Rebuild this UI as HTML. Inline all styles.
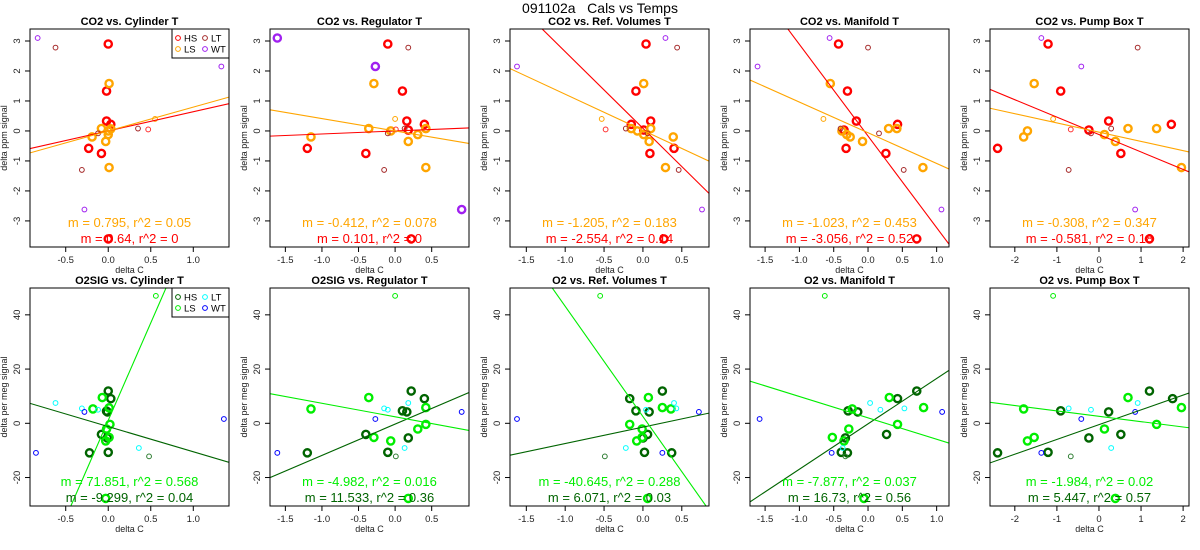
<!DOCTYPE html>
<html><head><meta charset="utf-8"><style>
html,body{margin:0;padding:0;background:#fff;width:1200px;height:550px;overflow:hidden;}
svg{display:block;font-family:"Liberation Sans",sans-serif;}
</style></head><body>
<svg id="chart" width="1200" height="550" viewBox="0 0 1200 550">
<text x="600" y="13" text-anchor="middle" font-size="14" style="white-space:pre" xml:space="preserve">091102a   Cals vs Temps</text>
</svg>
<script>
// ---------- data ----------
const panelTitles = ["CO2 vs. Cylinder T","CO2 vs. Regulator T","CO2 vs. Ref. Volumes T","CO2 vs. Manifold T","CO2 vs. Pump Box T",
 "O2SIG vs. Cylinder T","O2SIG vs. Regulator T","O2 vs. Ref. Volumes T","O2 vs. Manifold T","O2 vs. Pump Box T"];
const xRanges = [[-0.92,1.42],[-1.71,1.01],[-1.71,0.85],[-1.72,1.18],[-2.59,2.14]];
const xTicks = [[-0.5,0,0.5,1.0],[-1.5,-1,-0.5,0,0.5],[-1.5,-1,-0.5,0,0.5],[-1.5,-1,-0.5,0,0.5,1.0],[-2,-1,0,1,2]];
const yRangeTop = [-3.87,3.4];
const yRangeBot = [-30.5,49.9];
const yTicksTop = [-3,-2,-1,0,1,2,3];
const yTicksBot = [-20,0,20,40];
const fitHS = [[0.64,0.0],[0.101,0.0],[-2.554,0.09],[-3.056,-0.17],[-0.581,-0.12],
               [-9.299,-1.2],[11.533,-0.3],[6.071,-1.4],[16.73,-0.2],[5.447,-0.5]];
const fitLS = [[0.795,0.0],[-0.412,0.0],[-1.205,0.02],[-1.023,-0.06],[-0.308,-0.04],
               [71.851,1.1],[-4.982,2.4],[-40.645,2.5],[-7.877,2.0],[-1.984,2.6]];
const statLS = ["m = 0.795, r^2 = 0.05","m = -0.412, r^2 = 0.078","m = -1.205, r^2 = 0.183","m = -1.023, r^2 = 0.453","m = -0.308, r^2 = 0.347",
 "m = 71.851, r^2 = 0.568","m = -4.982, r^2 = 0.016","m = -40.645, r^2 = 0.288","m = -7.877, r^2 = 0.037","m = -1.984, r^2 = 0.02"];
const statHS = ["m = 0.64, r^2 = 0","m = 0.101, r^2 = 0","m = -2.554, r^2 = 0.14","m = -3.056, r^2 = 0.52","m = -0.581, r^2 = 0.18",
 "m = -9.299, r^2 = 0.04","m = 11.533, r^2 = 0.36","m = 6.071, r^2 = 0.03","m = 16.73, r^2 = 0.56","m = 5.447, r^2 = 0.57"];
const pts0 = [[0,2.9,"HS"],[-0.02,1.33,"HS"],[-0.02,0.33,"HS"],[0.03,0.22,"HS"],[-0.23,-0.58,"HS"],[-0.08,-0.75,"HS"],[0,-3.6,"HS"],
 [0.01,1.58,"LS"],[-0.08,0.08,"LS"],[0,0.0,"LS"],[0.03,0.07,"LS"],[-0.19,-0.2,"LS"],[-0.03,-0.35,"LS"],[0,-0.12,"LS"],[0.01,-1.22,"LS"],
 [0.55,0.4,"ls"],[0.47,0.05,"hs"],[-0.62,2.78,"LT"],[-0.12,-0.08,"LT"],[0.35,0.08,"LT"],[-0.31,-1.3,"LT"],
 [-0.83,3.1,"WT"],[1.33,2.15,"WT"],[-0.28,-2.62,"WT"]];
const pts1 = [[-0.1,2.9,"HS"],[0.1,1.33,"HS"],[0.16,0.33,"HS"],[0.40,0.22,"HS"],[0.18,0.03,"HS"],[-1.2,-0.58,"HS"],[-0.4,-0.75,"HS"],[0.22,-3.6,"HS"],
 [-0.29,1.58,"LS"],[-0.36,0.08,"LS"],[-0.06,0.0,"LS"],[-1.15,-0.2,"LS"],[0.31,-0.12,"LS"],[0.18,-0.35,"LS"],[0.42,0.08,"LS"],[0.42,-1.22,"LS"],
 [0.0,0.4,"ls"],[0.01,0.05,"hs"],[0.18,2.78,"LT"],[-0.1,-0.08,"LT"],[0.13,0.08,"LT"],[-0.15,-1.3,"LT"],
 [-1.61,3.1,"WB"],[-0.27,2.15,"WB"],[0.91,-2.62,"WB"]];
const pts2 = [[0.04,2.9,"HS"],[-0.09,1.33,"HS"],[0.10,0.33,"HS"],[-0.15,0.22,"HS"],[0.01,0.03,"HS"],[0.40,-0.58,"HS"],[0.09,-0.75,"HS"],[0.27,-3.6,"HS"],
 [0.01,1.58,"LS"],[-0.15,0.08,"LS"],[-0.07,0.0,"LS"],[0.01,-0.12,"LS"],[0.08,-0.35,"LS"],[0.1,0.08,"LS"],[0.39,-0.2,"LS"],[0.29,-1.22,"LS"],
 [-0.53,0.4,"ls"],[-0.48,0.05,"hs"],[0.44,2.78,"LT"],[-0.22,0.08,"LT"],[0.06,-0.08,"LT"],[0.46,-1.3,"LT"],
 [-1.62,2.15,"WT"],[0.29,3.1,"WT"],[0.76,-2.62,"WT"]];
const pts3 = [[-0.43,2.9,"HS"],[-0.30,1.33,"HS"],[-0.17,0.33,"HS"],[0.43,0.22,"HS"],[-0.35,0.03,"HS"],[-0.32,-0.58,"HS"],[0.26,-0.75,"HS"],[0.71,-3.6,"HS"],
 [-0.55,1.58,"LS"],[-0.38,0.0,"LS"],[-0.31,-0.12,"LS"],[-0.26,-0.2,"LS"],[-0.08,-0.35,"LS"],[0.30,0.08,"LS"],[0.42,0.08,"LS"],[0.80,-1.22,"LS"],
 [-0.65,0.4,"ls"],[0.0,2.78,"LT"],[-0.40,0.08,"LT"],[0.16,-0.08,"LT"],[0.52,-1.3,"LT"],
 [-1.61,2.15,"WT"],[-0.56,3.1,"WT"],[1.07,-2.62,"WT"]];
const pts4 = [[-1.21,2.9,"HS"],[-0.91,1.33,"HS"],[0.23,0.33,"HS"],[1.72,0.22,"HS"],[-0.24,0.03,"HS"],[-2.41,-0.58,"HS"],[0.52,-0.75,"HS"],[1.2,-3.6,"HS"],
 [-1.54,1.58,"LS"],[-1.70,0.0,"LS"],[-1.79,-0.2,"LS"],[0.13,-0.12,"LS"],[0.39,-0.35,"LS"],[0.69,0.08,"LS"],[1.37,0.08,"LS"],[1.96,-1.22,"LS"],
 [-1.09,0.4,"ls"],[-0.67,0.05,"hs"],[0.92,2.78,"LT"],[0.29,0.08,"LT"],[-0.19,-0.08,"LT"],[-0.72,-1.3,"LT"],
 [-1.37,3.1,"WT"],[-0.42,2.15,"WT"],[0.86,-2.62,"WT"]];
const pts5 = [[0,11.9,"HS"],[0.03,9.1,"HS"],[-0.02,4.5,"HS"],[-0.01,4.2,"HS"],[-0.08,-4.1,"HS"],[-0.22,-10.9,"HS"],[0,-10.7,"HS"],[-0.01,-5.4,"HS"],
 [-0.07,9.5,"LS"],[0.01,5.7,"LS"],[-0.18,5.3,"LS"],[0.02,-0.4,"LS"],[-0.02,-2.1,"LS"],[0.01,-5.2,"LS"],[-0.03,-6.5,"LS"],[-0.03,-27.7,"LS"],
 [0.56,47,"ls"],[0.48,-12.2,"hs"],[-0.62,7.5,"LT"],[-0.31,5.5,"LT"],[-0.12,5.0,"LT"],[0.36,-9.1,"LT"],
 [-0.85,-10.9,"WT"],[-0.28,4.2,"WT"],[1.36,1.6,"WT"]];
const pts6 = [[0.22,11.9,"HS"],[0.40,9.1,"HS"],[0.1,4.6,"HS"],[0.16,4.2,"HS"],[-0.40,-4.1,"HS"],[-1.2,-10.9,"HS"],[-0.1,-10.7,"HS"],[0.18,-5.4,"HS"],
 [-0.36,9.5,"LS"],[0.42,5.8,"LS"],[-1.15,5.3,"LS"],[0.42,-0.4,"LS"],[0.31,-2.1,"LS"],[-0.29,-5.2,"LS"],[-0.06,-6.5,"LS"],[0.18,-27.7,"LS"],
 [0.0,47,"ls"],[0.01,-12.2,"hs"],[0.18,7.5,"LT"],[-0.15,5.5,"LT"],[-0.1,5.0,"LT"],[0.13,-9.1,"LT"],
 [-1.61,-10.9,"WT"],[-0.27,1.6,"WT"],[0.91,4.2,"WT"]];
const pts7 = [[0.25,11.9,"HS"],[-0.17,9.1,"HS"],[-0.09,4.6,"HS"],[0.08,4.2,"HS"],[0.06,-4.1,"HS"],[0.37,-10.9,"HS"],[0.02,-10.7,"HS"],[0.0,-5.4,"HS"],
 [0.07,9.5,"LS"],[0.25,5.8,"LS"],[0.36,5.3,"LS"],[-0.17,-0.4,"LS"],[-0.01,-2.1,"LS"],[-0.01,-5.2,"LS"],[-0.08,-6.5,"LS"],[0.06,-27.7,"LS"],
 [-0.55,47,"ls"],[-0.49,-12.2,"hs"],[0.40,7.5,"LT"],[0.43,5.5,"LT"],[0.04,5.0,"LT"],[-0.22,-9.1,"LT"],
 [-1.62,1.6,"WT"],[0.25,-10.9,"WT"],[0.72,4.2,"WT"]];
const pts8 = [[0.71,11.9,"HS"],[0.43,9.1,"HS"],[-0.29,4.6,"HS"],[-0.15,4.2,"HS"],[0.27,-4.1,"HS"],[-0.30,-10.9,"HS"],[-0.39,-10.7,"HS"],[-0.33,-5.4,"HS"],
 [0.31,9.5,"LS"],[0.81,5.8,"LS"],[-0.23,5.3,"LS"],[0.43,-0.4,"LS"],[-0.28,-2.1,"LS"],[-0.52,-5.2,"LS"],[-0.35,-6.5,"LS"],[-0.06,-27.7,"LS"],
 [-0.63,47,"ls"],[-0.33,-12.2,"hs"],[0.03,7.5,"LT"],[0.53,5.5,"LT"],[0.18,5.0,"LT"],[-0.37,-9.1,"LT"],
 [-1.58,1.6,"WT"],[-0.53,-10.9,"WT"],[1.08,4.2,"WT"]];
const pts9 = [[1.2,11.9,"HS"],[1.75,9.1,"HS"],[-0.91,4.6,"HS"],[0.23,4.2,"HS"],[0.52,-4.1,"HS"],[-2.41,-10.9,"HS"],[-1.21,-10.7,"HS"],[-0.24,-5.4,"HS"],
 [0.69,9.5,"LS"],[1.96,5.8,"LS"],[-1.79,5.3,"LS"],[1.37,-0.4,"LS"],[0.13,-2.1,"LS"],[-1.54,-5.2,"LS"],[-1.70,-6.5,"LS"],[0.39,-27.7,"LS"],
 [-1.09,47,"ls"],[-0.67,-12.2,"hs"],[0.92,7.5,"LT"],[-0.72,5.5,"LT"],[-0.19,5.0,"LT"],[0.29,-9.1,"LT"],
 [-1.37,-10.9,"WT"],[-0.42,1.6,"WT"],[0.86,4.2,"WT"]];
const allPts = [pts0,pts1,pts2,pts3,pts4,pts5,pts6,pts7,pts8,pts9];

// ---------- drawing ----------
const NS = "http://www.w3.org/2000/svg";
const svg = document.getElementById("chart");
function mk(tag, attrs, parent, text){
  const e = document.createElementNS(NS, tag);
  for (const k in attrs) e.setAttribute(k, attrs[k]);
  if (text !== undefined) e.textContent = text;
  (parent||svg).appendChild(e);
  return e;
}
const topColors = {HS:"#ff0000",LS:"#ffa500",hs:"#ff3030",ls:"#ffa500",LT:"#a52a2a",WT:"#a020f0",WB:"#a020f0"};
const botColors = {HS:"#006400",LS:"#00ee00",hs:"#2e7d32",ls:"#00ee00",LT:"#00ffff",WT:"#0000ff",WB:"#0000ff"};
function fmt(v,c){ if(c===4) return String(v); return v.toFixed(1); }

for (let p=0;p<10;p++){
  const row = p<5?0:1, col = p%5;
  const L = 30+col*240, R = L+199;
  const T = row===0?29:288, B = row===0?247:506;
  const xr = xRanges[col];
  const yr = row===0?yRangeTop:yRangeBot;
  const xs = v => L + (v-xr[0])/(xr[1]-xr[0])*(R-L);
  const ys = v => B - (v-yr[0])/(yr[1]-yr[0])*(B-T);
  const colors = row===0?topColors:botColors;
  const g = mk("g",{});
  
  
  const cp = mk("clipPath",{id:"clip"+p},g);
  mk("rect",{x:L,y:T,width:R-L,height:B-T},cp);
  const t = mk("text",{x:(L+R)/2,y:T-4,"text-anchor":"middle","font-size":"11","font-weight":"bold"},g,panelTitles[p]);
  
  
  xTicks[col].forEach(v=>{
    const x = xs(v);
    mk("line",{x1:x,x2:x,y1:B,y2:B+5,stroke:"#000","stroke-width":"1"},g);
    const tl = mk("text",{x:x,y:B+16,"text-anchor":"middle","font-size":"9.5",fill:"#222"},g,fmt(v,col));
    
    
  });
  const xt = mk("text",{x:(L+R)/2,y:B+26,"text-anchor":"middle","font-size":"9",fill:"#222"},g,"delta C");
  
  
  (row===0?yTicksTop:yTicksBot).forEach(v=>{
    const y = ys(v);
    mk("line",{x1:L-5,x2:L,y1:y,y2:y,stroke:"#000","stroke-width":"1"},g);
    const tl = mk("text",{x:L-10,y:y,"text-anchor":"middle","font-size":"9.5",fill:"#222",transform:`rotate(-90 ${L-10} ${y})`},g,String(v));
    
    
  });
  const yx = L-23, yy=(T+B)/2;
  const ytl = mk("text",{x:yx,y:yy,"text-anchor":"middle","font-size":"9",fill:"#222",transform:`rotate(-90 ${yx} ${yy})`},g,row===0?"delta ppm signal":"delta per meg signal");
  
  
  const pg = mk("g",{"clip-path":`url(#clip${p})`},g);
  allPts[p].forEach(d=>{
    const thick = d[2]==="HS"||d[2]==="LS"||d[2]==="WB";
    const c = mk("circle",{cx:xs(d[0]),cy:ys(d[1]),r:thick?3.6:2.4,fill:"none",stroke:colors[d[2]],"stroke-width":thick?2.4:1},pg);
    
    
  });
  [[fitHS[p],"HS"],[fitLS[p],"LS"]].forEach(([f,k])=>{
    const l = mk("line",{x1:xs(xr[0]),y1:ys(f[0]*xr[0]+f[1]),x2:xs(xr[1]),y2:ys(f[0]*xr[1]+f[1]),stroke:row===0?(k==="HS"?"#ff0000":"#ffa500"):(k==="HS"?"#006400":"#00ee00"),"stroke-width":"1.1"},pg);
    
    
  });
  const s1 = mk("text",{x:(L+R)/2,y:B-20,"text-anchor":"middle","font-size":"13",fill:row===0?"#ffa500":"#00ee00"},g,statLS[p]);
  
  
  const s2 = mk("text",{x:(L+R)/2,y:B-4,"text-anchor":"middle","font-size":"13",fill:row===0?"#ff0000":"#006400"},g,statHS[p]);
  
  
  mk("rect",{x:L,y:T,width:R-L,height:B-T,fill:"none",stroke:"#000","stroke-width":"1"},g);
  if (col===0){
    const lg = mk("g",{},g);
    
    
    mk("rect",{x:172,y:T,width:57,height:29,fill:"#fff",stroke:"#000","stroke-width":"1"},lg);
    const items=[["HS",178,T+9],["LS",178,T+20],["LT",205,T+9],["WT",205,T+20]];
    items.forEach(([k,x,y])=>{
      mk("circle",{cx:x,cy:y,r:2.4,fill:"none",stroke:colors[k],"stroke-width":"1"},lg);
      const lt = mk("text",{x:x+6,y:y+3.5,"font-size":"9.5"},lg,k);
      
      
    });
  }
}
</script>
</body></html>
